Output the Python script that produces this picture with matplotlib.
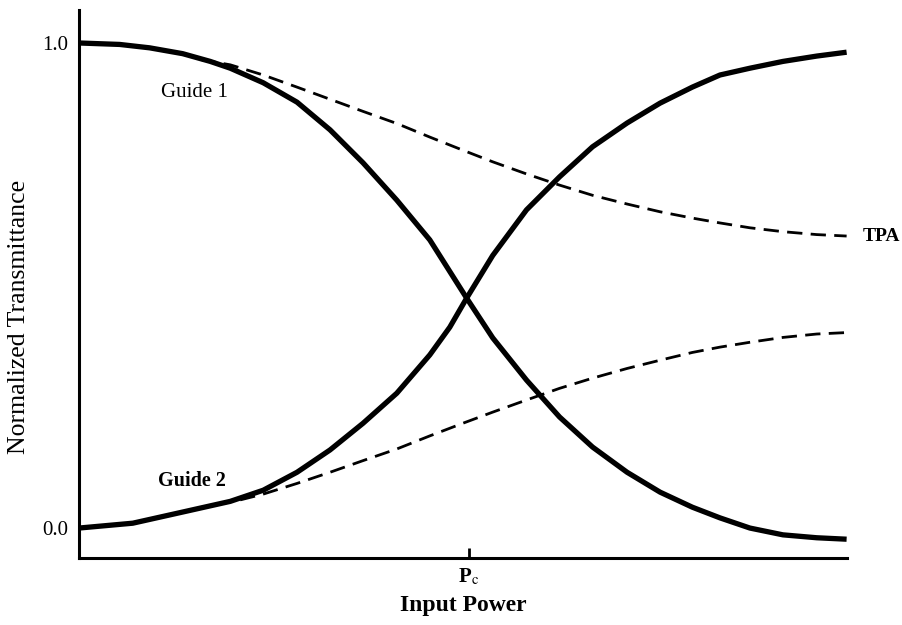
import numpy as np
import matplotlib
matplotlib.use('Agg')
import matplotlib.pyplot as plt

plt.rcParams['font.family'] = ['Liberation Serif', 'DejaVu Serif']
plt.rcParams['mathtext.fontset'] = 'stix'

# 曲线数据（横轴 0~1 为归一化输入功率）
g1_x = [0.0, 0.053, 0.092, 0.135, 0.171, 0.197, 0.240, 0.284, 0.327, 0.370, 0.414,
        0.457, 0.505, 0.539, 0.583, 0.626, 0.669, 0.714, 0.757, 0.799, 0.835, 0.874,
        0.917, 0.961, 1.0]
g1_y = [1.0, 0.997, 0.99, 0.978, 0.962, 0.948, 0.918, 0.878, 0.821, 0.753, 0.676,
        0.594, 0.474, 0.392, 0.305, 0.229, 0.167, 0.115, 0.074, 0.043, 0.021, 0.0,
        -0.014, -0.02, -0.023]

g2_x = [0.0, 0.070, 0.135, 0.197, 0.240, 0.284, 0.327, 0.370, 0.414, 0.457, 0.483,
        0.505, 0.539, 0.583, 0.626, 0.669, 0.714, 0.757, 0.799, 0.835, 0.874, 0.917,
        0.961, 1.0]
g2_y = [0.0, 0.01, 0.033, 0.055, 0.078, 0.115, 0.161, 0.216, 0.278, 0.357, 0.414,
        0.474, 0.562, 0.656, 0.724, 0.786, 0.835, 0.876, 0.909, 0.934, 0.948, 0.962,
        0.973, 0.981]

tpa1_x = [0.158, 0.197, 0.240, 0.284, 0.327, 0.370, 0.414, 0.457, 0.500, 0.539, 0.583,
          0.626, 0.669, 0.714, 0.757, 0.799, 0.835, 0.874, 0.917, 0.961, 1.0]
tpa1_y = [0.966, 0.955, 0.934, 0.909, 0.884, 0.859, 0.834, 0.806, 0.779, 0.755, 0.73,
          0.707, 0.686, 0.668, 0.652, 0.639, 0.629, 0.619, 0.611, 0.605, 0.602]

tpa2_x = [0.210, 0.240, 0.284, 0.327, 0.370, 0.414, 0.457, 0.500, 0.539, 0.583, 0.626,
          0.669, 0.714, 0.757, 0.799, 0.835, 0.874, 0.917, 0.961, 1.0]
tpa2_y = [0.058, 0.07, 0.092, 0.115, 0.139, 0.163, 0.19, 0.216, 0.239, 0.264, 0.288,
          0.309, 0.329, 0.346, 0.362, 0.373, 0.383, 0.393, 0.4, 0.403]

p_c = 0.508

fig = plt.figure(figsize=(9.02, 6.25), dpi=100)
ax = fig.add_axes([0.0876, 0.107, 0.851, 0.877])

ax.plot(g1_x, g1_y, color='black', lw=3.8, solid_capstyle='butt', solid_joinstyle='round')
ax.plot(g2_x, g2_y, color='black', lw=3.8, solid_capstyle='butt', solid_joinstyle='round')
ax.plot(tpa1_x, tpa1_y, color='black', lw=2.0, dashes=(5.5, 3))
ax.plot(tpa2_x, tpa2_y, color='black', lw=2.0, dashes=(5.5, 3))

ax.set_xlim(0, 1.0)
ax.set_ylim(-0.062, 1.068)

for s in ['top', 'right']:
    ax.spines[s].set_visible(False)
for s in ['left', 'bottom']:
    ax.spines[s].set_linewidth(2.2)

ax.set_yticks([0.0, 1.0])
ax.set_yticklabels(['0.0', '1.0'], fontsize=15)
ax.tick_params(axis='y', length=0, pad=8)
ax.set_xticks([p_c])
ax.set_xticklabels([r'P$_{\rm c}$'], fontsize=15, fontweight='bold')
ax.tick_params(axis='x', direction='in', length=7, width=2, pad=6)

ax.set_xlabel('Input Power', fontsize=17, fontweight='bold', labelpad=6)
ax.set_ylabel('Normalized Transmittance', fontsize=18.5)
ax.yaxis.set_label_coords(-0.064, 0.44)

ax.text(0.150, 0.897, 'Guide 1', fontsize=15, ha='center', va='center')
ax.text(0.147, 0.098, 'Guide 2', fontsize=14.5, fontweight='bold', ha='center', va='center')
ax.text(1.021, 0.602, 'TPA', fontsize=14, fontweight='bold', ha='left', va='center', clip_on=False)

fig.savefig('out.png', dpi=100)
